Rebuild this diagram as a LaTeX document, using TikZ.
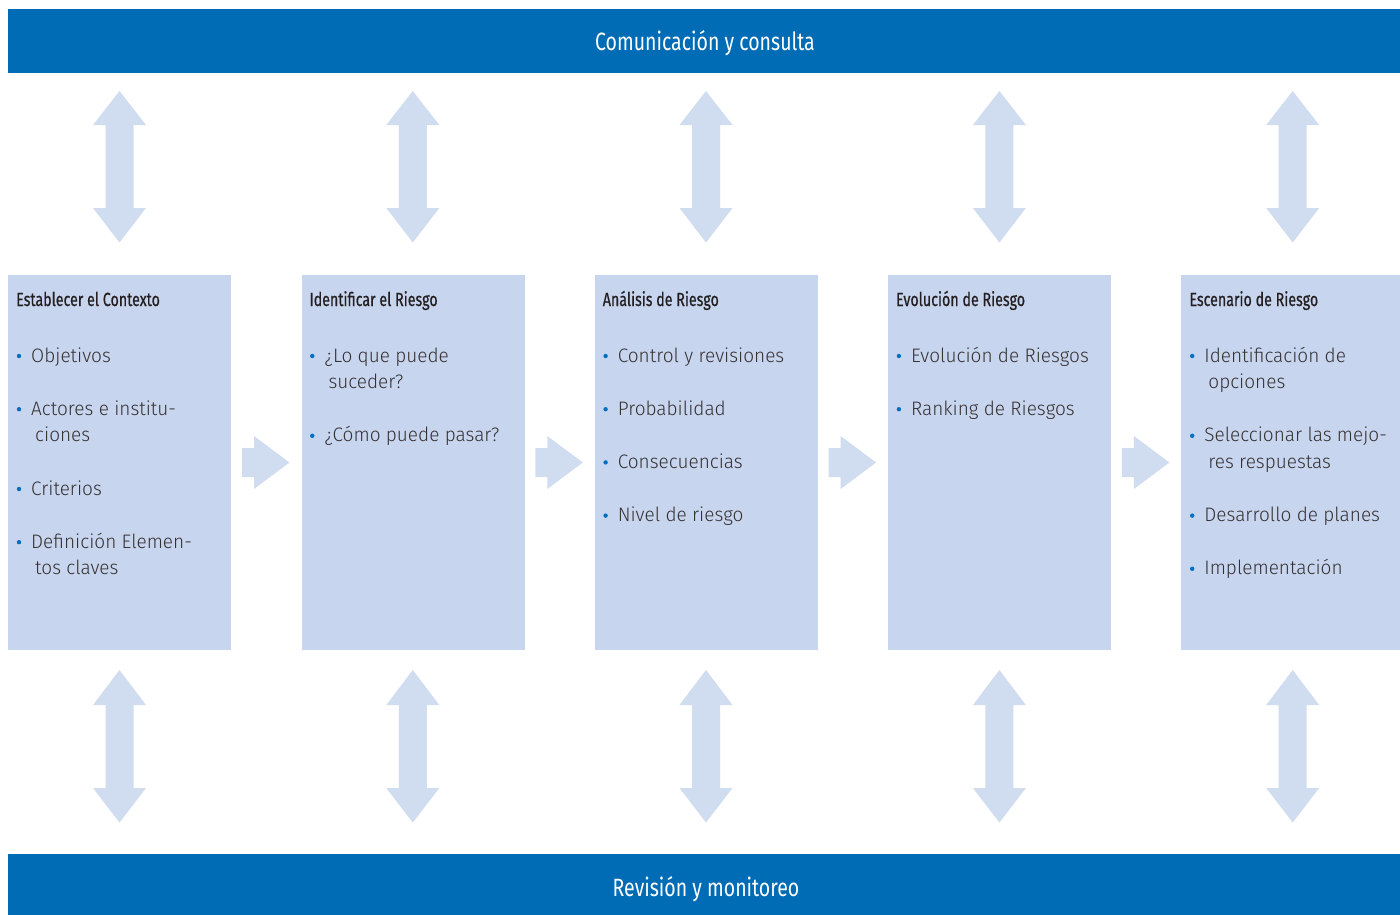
\documentclass[tikz,border=0pt]{standalone}
\usepackage{fontspec}
\setmainfont{Fira Sans}
\newfontfamily\condfont[FakeStretch=0.78]{Fira Sans}
\newfontfamily\headfont[FakeStretch=0.75,FakeBold=0.6]{Fira Sans}
\newfontfamily\itemfont[FakeStretch=0.975]{Fira Sans Light}
\definecolor{barblue}{RGB}{0,108,181}
\definecolor{boxblue}{RGB}{200,213,238}
\definecolor{arrowblue}{RGB}{208,220,239}
\definecolor{dotblue}{RGB}{0,112,192}
\definecolor{headtext}{RGB}{35,31,32}
\tikzset{
  bar/.style={fill=barblue, inner sep=0, anchor=north west, minimum width=1400pt, minimum height=64pt},
  bartext/.style={text=white, font=\condfont\fontsize{25}{30}\selectfont, anchor=base, inner sep=0},
  boxstyle/.style={fill=boxblue, inner sep=0, anchor=north west, minimum width=223pt, minimum height=375pt},
  headstyle/.style={text=headtext, font=\headfont\fontsize{19}{22}\selectfont, anchor=base west, inner sep=0},
  itemstyle/.style={text=headtext!92, font=\itemfont\fontsize{19.5}{24}\selectfont, anchor=base west, inner sep=0},
  arr/.style={fill=arrowblue}
}
\newcommand\bitem[4]{%
  \fill[dotblue] ({#2+11},{362+26.6*#3-6}) circle (2.2);
  \node[itemstyle] (#1) at ({#2+23},{362+26.6*#3}) {#4};
}
\newcommand\citem[4]{%
  \node[itemstyle] (#1) at ({#2+27},{362+26.6*#3}) {#4};
}
\begin{document}
\begin{tikzpicture}[x=1pt,y=-1pt]
\useasboundingbox (0,0) rectangle (1400,914);
\fill[white] (0,0) rectangle (1400,914);
\begin{scope}
\clip (0,0) rectangle (1400,914);
% bars
\node[bar] (top) at (8,9) {};
\node[bar, minimum height=62pt] (bottom) at (8,854) {};
\node[bartext] (toptext) at (705,50) {Comunicación y consulta};
\node[bartext] (bottomtext) at (706,896) {Revisión y monitoreo};
% boxes
\node[boxstyle] (b1) at (8,275) {};
\node[boxstyle] (b2) at (301.3,275) {};
\node[boxstyle] (b3) at (594.6,275) {};
\node[boxstyle] (b4) at (887.9,275) {};
\node[boxstyle] (b5) at (1181.2,275) {};
\end{scope}
% vertical arrows
\foreach \cx in {119.5,412.8,706,999.4,1292.7}{
  \fill[arr] (\cx,91) -- ({\cx+26.5},125) -- ({\cx+14},125) -- ({\cx+14},208) -- ({\cx+26.5},208) -- (\cx,242.5) -- ({\cx-26.5},208) -- ({\cx-14},208) -- ({\cx-14},125) -- ({\cx-26.5},125) -- cycle;
  \fill[arr] (\cx,670) -- ({\cx+26.5},705) -- ({\cx+14},705) -- ({\cx+14},788) -- ({\cx+26.5},788) -- (\cx,822.5) -- ({\cx-26.5},788) -- ({\cx-14},788) -- ({\cx-14},705) -- ({\cx-26.5},705) -- cycle;
}
% right arrows
\foreach \gx in {266,559.3,852.6,1145.9}{
  \fill[arr] ({\gx-24},448) -- ({\gx-12},448) -- ({\gx-12},436) -- ({\gx+23.5},462.5) -- ({\gx-12},489) -- ({\gx-12},477) -- ({\gx-24},477) -- cycle;
}
% headers
\node[headstyle] (h1) at (16,306) {Establecer el Contexto};
\node[headstyle] (h2) at (309.3,306) {Identificar el Riesgo};
\node[headstyle] (h3) at (602.6,306) {Análisis de Riesgo};
\node[headstyle] (h4) at (895.9,306) {Evolución de Riesgo};
\node[headstyle] (h5) at (1189.2,306) {Escenario de Riesgo};
% box 1
\bitem{a1}{8}{0}{Objetivos}
\bitem{a2}{8}{2}{Actores e institu-}
\citem{a2b}{8}{3}{ciones}
\bitem{a3}{8}{5}{Criterios}
\bitem{a4}{8}{7}{Definición Elemen-}
\citem{a4b}{8}{8}{tos claves}
% box 2
\bitem{c1}{301.3}{0}{¿Lo que puede}
\citem{c1b}{301.3}{1}{suceder?}
\bitem{c2}{301.3}{3}{¿Cómo puede pasar?}
% box 3
\bitem{d1}{594.6}{0}{Control y revisiones}
\bitem{d2}{594.6}{2}{Probabilidad}
\bitem{d3}{594.6}{4}{Consecuencias}
\bitem{d4}{594.6}{6}{Nivel de riesgo}
% box 4
\bitem{e1}{887.9}{0}{Evolución de Riesgos}
\bitem{e2}{887.9}{2}{Ranking de Riesgos}
% box 5
\bitem{f1}{1181.2}{0}{Identificación de}
\citem{f1b}{1181.2}{1}{opciones}
\bitem{f2}{1181.2}{3}{Seleccionar las mejo-}
\citem{f2b}{1181.2}{4}{res respuestas}
\bitem{f3}{1181.2}{6}{Desarrollo de planes}
\bitem{f4}{1181.2}{8}{Implementación}
\end{tikzpicture}
\end{document}
